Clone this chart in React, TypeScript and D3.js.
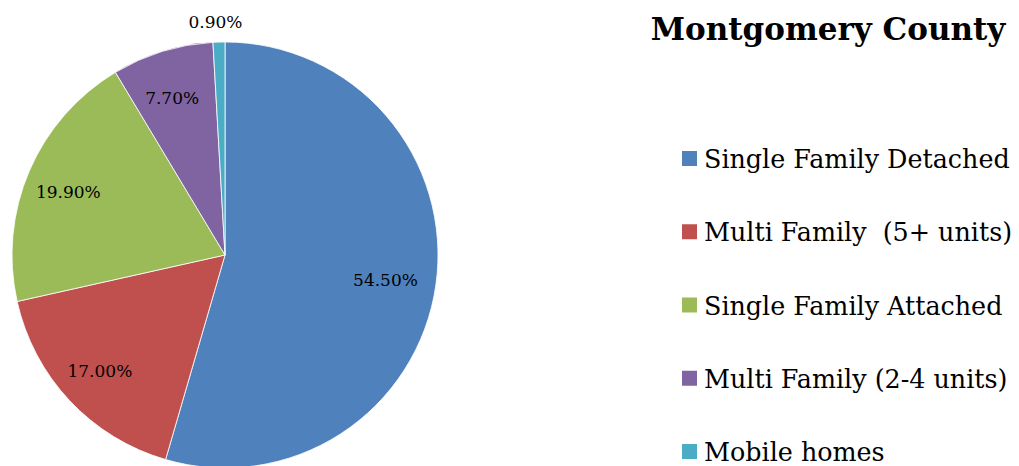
import React from "react";
import * as d3 from "d3";

const categories = [
  "Single Family Detached",
  "Multi Family  (5+ units)",
  "Single Family Attached",
  "Multi Family (2-4 units)",
  "Mobile homes",
];
const values = [54.5, 17.0, 19.9, 7.7, 0.9];
const labels = ["54.50%", "17.00%", "19.90%", "7.70%", "0.90%"];
const colors = ["#4F81BD", "#C0504D", "#9BBB59", "#8064A2", "#4BACC6"];
const title = "Montgomery County";

const W = 1019;
const H = 466;
const FONT = "'DejaVu Serif', 'Liberation Serif', serif";

export default function App() {
  const cx = 225;
  const cy = 255;
  const r = 213;
  const pie = d3
    .pie<number>()
    .sort(null)
    .startAngle(0)
    .endAngle(2 * Math.PI)(values);
  const arc = d3.arc<d3.PieArcDatum<number>>().innerRadius(0).outerRadius(r);
  const labelArc = d3
    .arc<d3.PieArcDatum<number>>()
    .innerRadius(r * 0.78)
    .outerRadius(r * 0.78);
  const outerArc = d3
    .arc<d3.PieArcDatum<number>>()
    .innerRadius(r + 20)
    .outerRadius(r + 20);

  const legendY = d3
    .scalePoint<string>()
    .domain(categories)
    .range([159, 452]);

  return (
    <svg
      width={W}
      height={H}
      style={{ position: "absolute", left: 0, top: 0, display: "block" }}
    >
      <rect width={W} height={H} fill="#fff" />
      <g transform={`translate(${cx},${cy})`}>
        {pie.map((d, i) => (
          <path key={i} d={arc(d) || ""} fill={colors[i]} stroke="#fff" strokeWidth={0.8} />
        ))}
        {pie.map((d, i) => {
          const small = d.endAngle - d.startAngle < 0.1;
          const [x, y] = small ? outerArc.centroid(d) : labelArc.centroid(d);
          return (
            <text
              key={i}
              x={x + (small ? -3 : -4)}
              y={y + (small ? 0 : 2)}
              textAnchor="middle"
              dominantBaseline="central"
              fontFamily={FONT}
              fontSize={17}
              fill="#000"
            >
              {labels[i]}
            </text>
          );
        })}
      </g>
      <text
        x={828}
        y={40}
        textAnchor="middle"
        fontFamily={FONT}
        fontWeight="bold"
        fontSize={31}
        fill="#000"
      >
        {title}
      </text>
      {categories.map((c, i) => {
        const y = legendY(c) as number;
        return (
          <g key={c}>
            <rect x={682} y={y - 8} width={15} height={15} fill={colors[i]} />
            <text
              x={704}
              y={y}
              dominantBaseline="central"
              fontFamily={FONT}
              fontSize={25.4}
              fill="#000"
              style={{ whiteSpace: "pre" }}
            >
              {c}
            </text>
          </g>
        );
      })}
    </svg>
  );
}
